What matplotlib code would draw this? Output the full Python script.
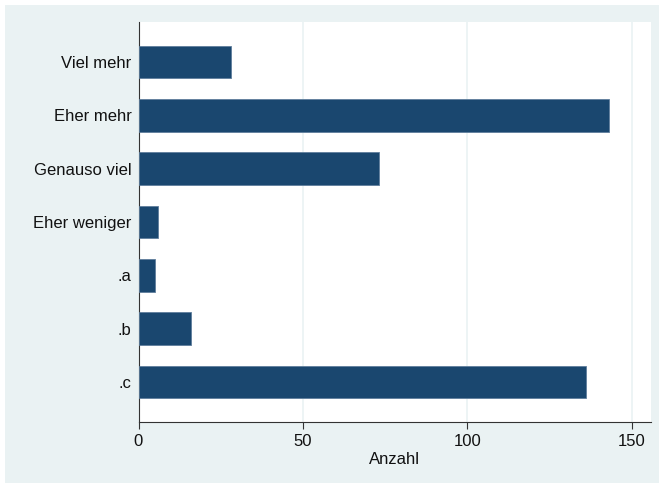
import numpy as np
import matplotlib.pyplot as plt
from matplotlib.patches import Rectangle

plt.rcParams['font.family'] = ['Liberation Sans', 'DejaVu Sans']

# Data
categories = ['Viel mehr', 'Eher mehr', 'Genauso viel', 'Eher weniger', '.a', '.b', '.c']
counts = [28, 143, 73, 6, 5, 16, 136]
xticks = [0, 50, 100, 150]

bg = '#EAF2F3'
bar_col = '#1A476F'
fs = 12

fig = plt.figure(figsize=(6.59, 4.84), dpi=100)
fig.patch.set_facecolor('white')
# Stata-style graph region (light blue-grey), small white margin top/left
fig.patches.append(Rectangle((5 / 659, 1 / 484), 1, 1 - 6 / 484, transform=fig.transFigure,
                             facecolor=bg, edgecolor='none', zorder=-10))

ax = fig.add_axes([138.5 / 659, 1 - 422 / 484, (651 - 138.5) / 659, (422 - 22) / 484])
ax.set_facecolor('white')

pos = np.arange(len(categories))
ax.barh(pos, counts, height=0.61, color=bar_col, edgecolor='#5F7E9C', linewidth=0.6, zorder=3)

ax.set_ylim(len(categories) - 0.25, -0.75)
ax.set_xlim(0, 155.8)
ax.set_yticks(pos)
ax.set_yticklabels(categories, fontsize=fs, color='#111111')
ax.tick_params(axis='y', length=0, pad=5)
ax.set_xticks(xticks)
ax.set_xticklabels([str(t) for t in xticks], fontsize=fs, color='#111111')
ax.tick_params(axis='x', length=5, width=0.8, color='#333333', pad=4)

for t in xticks[1:]:
    ax.axvline(t, color=bg, lw=1.2, zorder=1)

for s in ['top', 'right']:
    ax.spines[s].set_visible(False)
for s in ['left', 'bottom']:
    ax.spines[s].set_color('#333333')
    ax.spines[s].set_linewidth(0.8)

ax.set_xlabel('Anzahl', fontsize=fs, color='#111111', labelpad=2)

fig.savefig('out.png', dpi=100, facecolor=fig.get_facecolor())
